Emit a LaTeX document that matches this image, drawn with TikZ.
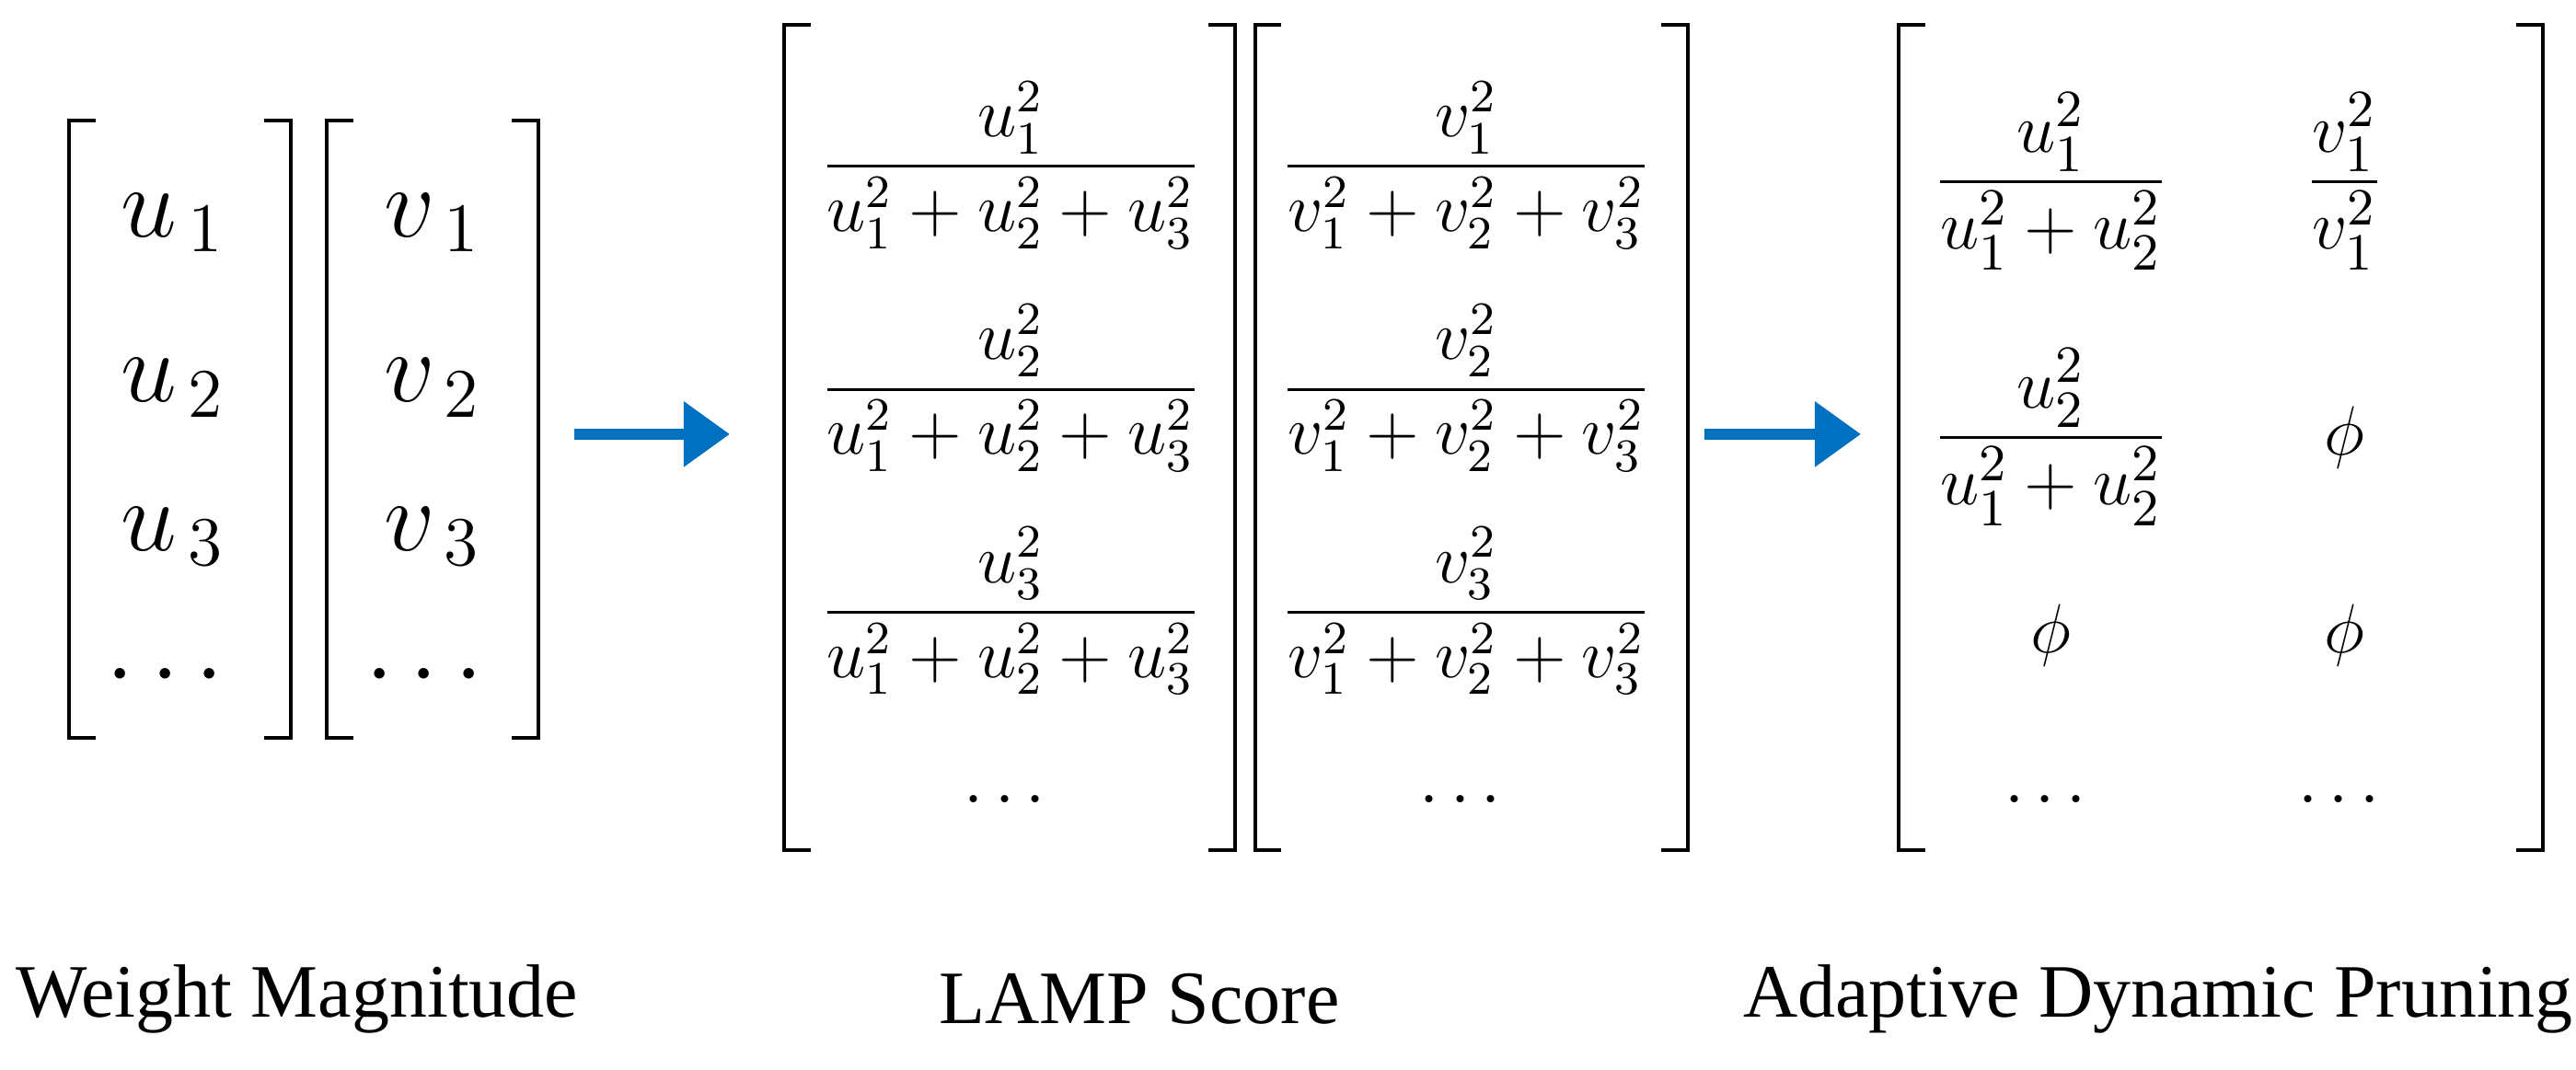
\documentclass[tikz,border=0pt]{standalone}
\usepackage{amsmath}
\usepackage{fontspec}
\setmainfont{Liberation Serif}
\usetikzlibrary{arrows.meta}
\definecolor{arr}{RGB}{0,112,192}
\begin{document}
\begin{tikzpicture}[x=0.1mm,y=-0.1mm,
  brk/.style={line width=0.65pt},
  big/.style={font=\fontsize{18}{20}\selectfont, inner sep=0},
  frs/.style={font=\fontsize{12}{14}\selectfont, inner sep=0},
  frm/.style={font=\fontsize{12.5}{14}\selectfont, inner sep=0},
  lab/.style={font=\fontsize{13}{15}\selectfont, inner sep=0},
  ar/.style={arr, line width=2pt, -{Triangle[length=2.8mm,width=3.8mm]}}]
\useasboundingbox (0,0) rectangle (1560,648);
% brackets
\foreach \l/\r/\t/\b in {42/176/73/447, 198/326/73/447, 475/748/15/515, 760/1022/15/515, 1150/1540/15/515}{
  \draw[brk] (\l+16,\t) -- (\l,\t) -- (\l,\b) -- (\l+16,\b);
  \draw[brk] (\r-16,\t) -- (\r,\t) -- (\r,\b) -- (\r-16,\b);
}
% first two vectors
\node[big] (u1) at (105,135) {$u_{\,1}$};
\node[big] (u2) at (105,235) {$u_{\,2}$};
\node[big] (u3) at (105,325) {$u_{\,3}$};
\node[big] (u4) at (105,410) {$\cdots$};
\node[big] (v1) at (262,135) {$v_{\,1}$};
\node[big] (v2) at (262,235) {$v_{\,2}$};
\node[big] (v3) at (262,325) {$v_{\,3}$};
\node[big] (v4) at (262,410) {$\cdots$};
% LAMP
\node[frs] (lu1) at (612,100) {$\dfrac{u_1^2}{u_1^2+u_2^2+u_3^2}$};
\node[frs] (lu2) at (612,235) {$\dfrac{u_2^2}{u_1^2+u_2^2+u_3^2}$};
\node[frs] (lu3) at (612,370) {$\dfrac{u_3^2}{u_1^2+u_2^2+u_3^2}$};
\node[frs] (lu4) at (612,485) {$\cdots$};
\node[frs] (lv1) at (888,100) {$\dfrac{v_1^2}{v_1^2+v_2^2+v_3^2}$};
\node[frs] (lv2) at (888,235) {$\dfrac{v_2^2}{v_1^2+v_2^2+v_3^2}$};
\node[frs] (lv3) at (888,370) {$\dfrac{v_3^2}{v_1^2+v_2^2+v_3^2}$};
\node[frs] (lv4) at (888,485) {$\cdots$};
% pruning
\node[frm] (p11) at (1242,110) {$\dfrac{u_1^2}{u_1^2+u_2^2}$};
\node[frm] (p21) at (1242,265) {$\dfrac{u_2^2}{u_1^2+u_2^2}$};
\node[frm] (p31) at (1242,385) {$\phi$};
\node[frm] (p41) at (1242,485) {$\cdots$};
\node[frm] (p12) at (1420,110) {$\dfrac{v_1^2}{v_1^2}$};
\node[frm] (p22) at (1420,265) {$\phi$};
\node[frm] (p32) at (1420,385) {$\phi$};
\node[frm] (p42) at (1420,485) {$\cdots$};
% arrows
\coordinate (a1s) at (348,263); \coordinate (a1e) at (442,263);
\coordinate (a2s) at (1032,263); \coordinate (a2e) at (1127,263);
\draw[ar] (a1s) -- (a1e);
\draw[ar] (a2s) -- (a2e);
% labels
\node[lab] (l1) at (180,605) {Weight Magnitude};
\node[lab] (l2) at (690,605) {LAMP Score};
\node[lab] (l3) at (1307,605) {Adaptive Dynamic Pruning};
\end{tikzpicture}
\end{document}
